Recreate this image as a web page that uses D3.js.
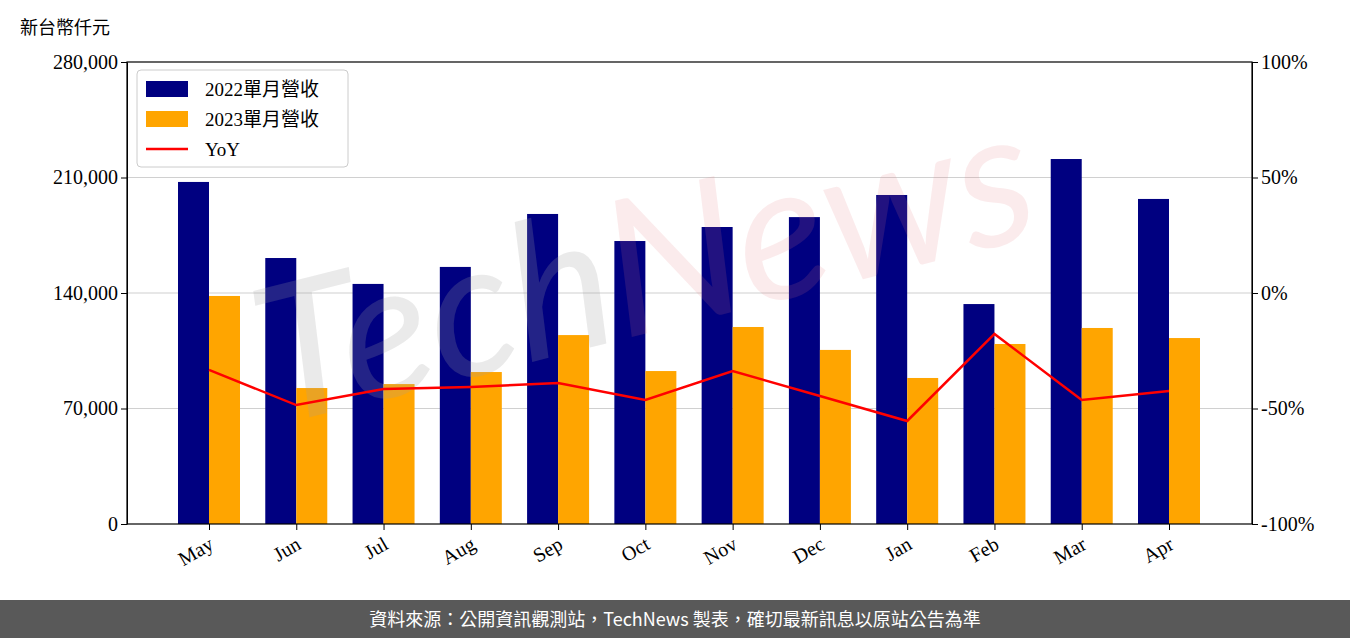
<!DOCTYPE html><html><head><meta charset="utf-8">
<script src="https://cdn.jsdelivr.net/npm/d3@7"></script>
<style>body{margin:0;background:#fff}svg{display:block}</style></head><body>
<script>
const months=["May","Jun","Jul","Aug","Sep","Oct","Nov","Dec","Jan","Feb","Mar","Apr"];
const rev2022=[207300,161200,145500,155800,187900,171500,180000,186000,199400,133300,221200,197000];
const rev2023=[138200,82400,84800,92100,114500,92700,119400,105500,88500,109100,118800,112700];
const yoy=[-33.3,-48.5,-41.6,-40.7,-39.0,-46.3,-33.8,-44.6,-55.4,-17.7,-46.3,-42.4];
const leftTicks=[0,70000,140000,210000,280000];
const rightTicks=[-100,-50,0,50,100];
const W=1350,H=638,L=127,R=1252,T=62,B=524;
const svg=d3.select("body").append("svg").attr("width",W).attr("height",H);
const font="'Liberation Serif','DejaVu Serif',serif";
const y=d3.scaleLinear().domain([0,280000]).range([B,T]);
const y2=d3.scaleLinear().domain([-100,100]).range([B,T]);
const xc=d3.scaleLinear().domain([0,11]).range([209,1169]);
const bw=31;
svg.append("g").selectAll("line").data(leftTicks.slice(1,4)).join("line")
 .attr("x1",L).attr("x2",R).attr("y1",d=>y(d)).attr("y2",d=>y(d)).attr("stroke","#d0d0d0").attr("stroke-width",1.2);
svg.append("g").selectAll("rect").data(rev2022).join("rect").attr("x",(d,i)=>xc(i)-bw).attr("width",bw)
 .attr("y",d=>y(d)).attr("height",d=>B-y(d)).attr("fill","#000080");
svg.append("g").selectAll("rect").data(rev2023).join("rect").attr("x",(d,i)=>xc(i)).attr("width",bw)
 .attr("y",d=>y(d)).attr("height",d=>B-y(d)).attr("fill","#FFA500");
const wm=svg.append("text").attr("transform","translate(660,330) rotate(-14)")
 .attr("text-anchor","middle").attr("font-family","Lato,sans-serif").attr("font-size",190).attr("font-style","italic");
wm.append("tspan").attr("fill","rgba(160,160,160,0.22)").text("Tech");
wm.append("tspan").attr("fill","rgba(230,120,130,0.15)").text("News");
svg.append("path").datum(yoy).attr("fill","none").attr("stroke","red").attr("stroke-width",2.5)
 .attr("d",d3.line().x((d,i)=>xc(i)).y(d=>y2(d)));
svg.append("rect").attr("x",L).attr("y",T).attr("width",R-L).attr("height",B-T).attr("fill","none").attr("stroke","#000").attr("stroke-width",1.2);
const ax=svg.append("g").attr("transform",`translate(${L},0)`).call(d3.axisLeft(y).tickValues(leftTicks).tickFormat(d3.format(",")).tickSizeOuter(0));
const ax2=svg.append("g").attr("transform",`translate(${R},0)`).call(d3.axisRight(y2).tickValues(rightTicks).tickFormat(d=>d+"%").tickSizeOuter(0));
const xs=d3.scalePoint().domain(months).range([209,1169]);
const ax3=svg.append("g").attr("transform",`translate(0,${B})`).call(d3.axisBottom(xs).tickSizeOuter(0));
ax3.select(".domain").remove();
ax3.selectAll("text").attr("transform","translate(2,18) rotate(-30)").attr("text-anchor","end").attr("dy","0.35em").attr("x",0).attr("y",0);
[ax,ax2,ax3].forEach(a=>{a.selectAll("text").attr("font-family",font).attr("font-size",20).attr("fill","#000");a.selectAll("line").attr("stroke","#000");a.select(".domain").attr("stroke","#000");});
svg.append("text").attr("x",20).attr("y",34).attr("font-family","'Noto Sans CJK TC',sans-serif").attr("font-size",18).text("新台幣仟元");
const lg=svg.append("g").attr("transform","translate(137,70)");
lg.append("rect").attr("width",211).attr("height",97).attr("rx",4).attr("fill","rgba(255,255,255,0.8)").attr("stroke","#ccc");
const items=[["2022單月營收","#000080","bar"],["2023單月營收","#FFA500","bar"],["YoY","red","line"]];
items.forEach((it,i)=>{const yy=19+i*30;
 if(it[2]=="bar")lg.append("rect").attr("x",9).attr("y",yy-8).attr("width",42).attr("height",16).attr("fill",it[1]);
 else lg.append("line").attr("x1",9).attr("x2",51).attr("y1",yy).attr("y2",yy).attr("stroke",it[1]).attr("stroke-width",2.5);
 lg.append("text").attr("x",68).attr("y",yy+7).attr("font-family","'Liberation Serif','Noto Sans CJK TC',serif").attr("font-size",19).text(it[0]);});
svg.append("rect").attr("x",0).attr("y",600).attr("width",W).attr("height",38).attr("fill","#595959");
svg.append("text").attr("x",W/2).attr("y",626).attr("text-anchor","middle").attr("fill","#fff").attr("font-family","'Noto Sans CJK TC',sans-serif").attr("font-size",18).text("資料來源：公開資訊觀測站，TechNews 製表，確切最新訊息以原站公告為準");
</script></body></html>
